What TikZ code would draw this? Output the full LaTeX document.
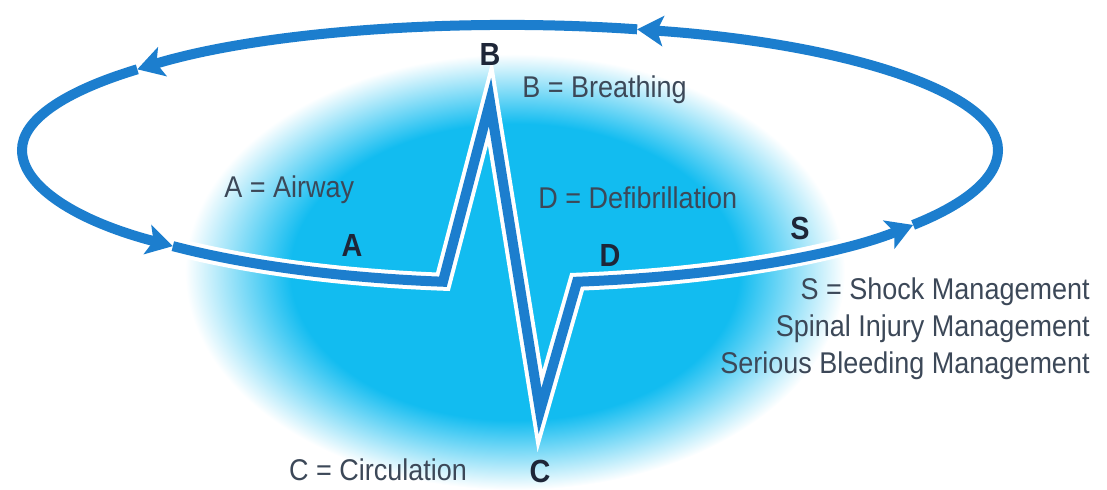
\documentclass[tikz,border=0pt]{standalone}
\usepackage{fontspec}
\setmainfont{Liberation Sans}[FakeStretch=0.9]
\usetikzlibrary{arrows.meta}
\definecolor{ecgblue}{RGB}{28,126,206}
\definecolor{glowblue}{RGB}{18,188,240}
\definecolor{txtgray}{RGB}{60,72,88}
\definecolor{txtnavy}{RGB}{30,38,56}
\pgfdeclareradialshading{cprglow}{\pgfpoint{0bp}{0bp}}{color(0bp)=(glowblue); color(17bp)=(glowblue); color(25bp)=(white); color(50bp)=(white)}

\begin{document}
\begin{tikzpicture}[x=0.5pt, y=-0.5pt, >={Stealth[length=13pt, width=15pt, inset=3pt]},
    halo/.style={draw=white, line width=9pt, line join=miter},
    ecg/.style={draw=ecgblue, line width=5pt, line join=miter},
    desc/.style={font=\fontsize{15}{18.5}\selectfont, text=txtgray, inner sep=0pt},
    letter/.style={font=\bfseries\fontsize{16}{18}\selectfont, text=txtnavy, inner sep=0pt}]

  \useasboundingbox (0,0) rectangle (1107,490);

  % glow behind the trace
  \shade[shading=cprglow] (515,272) ellipse [x radius=330, y radius=218];

  % points on the loop
  \coordinate (hub) at (510,150);
  \path (hub) ++(97.9:488 and 133) coordinate (cornA);
  \path (hub) ++(82.1:488 and 133) coordinate (cornD);
  \path (hub) ++(34.3:488 and 133) coordinate (arrR);
  \path (hub) ++(-74.9:488 and 125) coordinate (arrT);
  \path (hub) ++(-139.8:488 and 125) coordinate (arrL);
  \path (hub) ++(133.7:488 and 133) coordinate (arrA);
  \coordinate (peakB) at (490,102);
  \coordinate (peakC) at (540,411);

  % white rim under the trace
  \draw[halo] (cornD) arc[start angle=82.1, end angle=0, x radius=488, y radius=133]
    arc[start angle=0, end angle=-180, x radius=488, y radius=125]
    arc[start angle=180, end angle=97.9, x radius=488, y radius=133]
    -- (peakB) -- (peakC) -- cycle;

  % the trace
  \draw[ecg, ->] (arrA) arc[start angle=133.7, end angle=97.9, x radius=488, y radius=133]
    -- (peakB) -- (peakC) -- (cornD)
    arc[start angle=82.1, end angle=34.3, x radius=488, y radius=133];
  \draw[ecg, ->] (arrR) arc[start angle=34.3, end angle=0, x radius=488, y radius=133]
    arc[start angle=0, end angle=-74.9, x radius=488, y radius=125];
  \draw[ecg, ->] (arrT) arc[start angle=-74.9, end angle=-139.8, x radius=488, y radius=125];
  \draw[ecg, ->] (arrL) arc[start angle=-139.8, end angle=-180, x radius=488, y radius=125]
    arc[start angle=180, end angle=133.7, x radius=488, y radius=133];

  % letters on the trace
  \node[letter] (labA) at (352,245) {A};
  \node[letter] (labB) at (490,55) {B};
  \node[letter] (labC) at (540,471) {C};
  \node[letter] (labD) at (610,255) {D};
  \node[letter] (labS) at (800,228) {S};

  % meanings
  \node[desc, anchor=west] (txtA) at (224,190) {A = Airway};
  \node[desc, anchor=west] (txtB) at (522,90) {B = Breathing};
  \node[desc, anchor=west] (txtD) at (538,198) {D = Defibrillation};
  \node[desc] (txtC) at (378,470) {C = Circulation};
  \node[desc, anchor=east, align=right] (txtS) at (1090,329)
    {S = Shock Management\\Spinal Injury Management\\Serious Bleeding Management};
\end{tikzpicture}
\end{document}
